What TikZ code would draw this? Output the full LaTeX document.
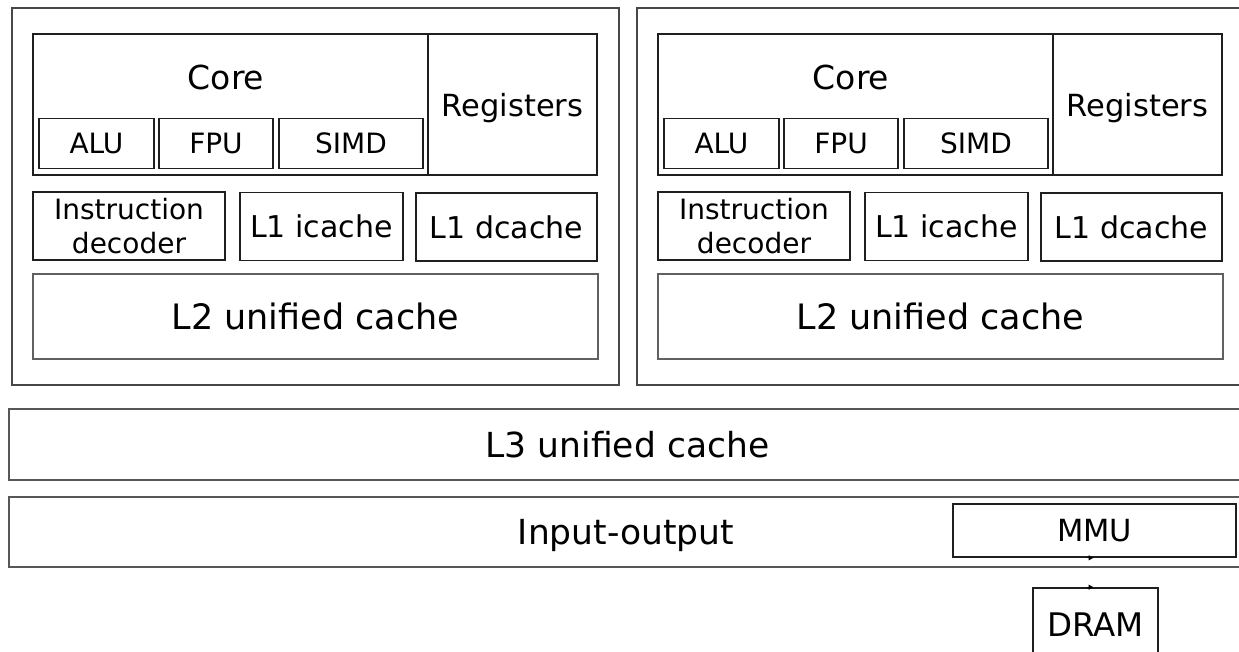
\documentclass[tikz,border=0pt]{standalone}
\usepackage{fontspec}
\setmainfont{DejaVu Sans}
\usetikzlibrary{arrows.meta}
\newcommand{\fs}[1]{\fontsize{#1}{#1}\selectfont}
\tikzset{
  outerbox/.style={draw=black!72, line width=1.7pt, inner sep=0pt},
  box/.style={draw=black!88, line width=1.6pt, inner sep=0pt, align=center},
  lightbox/.style={draw=black!62, line width=1.4pt, inner sep=0pt, align=center, text depth=0pt},
  bandbox/.style={draw=black!66, line width=1.6pt, inner sep=0pt, text depth=0pt},
  txt/.style={inner sep=0pt, align=center, text depth=0pt},
  unitfont/.style={font=\fs{28}},
  l1font/.style={font=\fs{30}, text depth=0pt},
  regfont/.style={font=\fs{30.5}, text depth=0pt},
  decfont/.style={font={\fontsize{28}{34}\selectfont}},
  bigfont/.style={font=\fs{34.5}},
}
\begin{document}
\begin{tikzpicture}[x=1pt,y=-1pt]
\clip (0,0) rectangle (1239,652);
\fill[white] (0,0) rectangle (1239,652);
% ---- left processor ----
\node[outerbox, minimum width=607, minimum height=377] (outL) at (315.5,196.5) {};
\node[box, minimum width=395, minimum height=141] (coreL) at (230.5,104.5) {};
\node[txt, font=\fs{33}] (coreLt) at (226,77) {Core};
\node[box, minimum width=169, minimum height=141, regfont] (regL) at (512.5,104.5) {Registers};
\node[box, minimum width=115, minimum height=50, unitfont] (aluL) at (96.5,143.5) {ALU};
\node[box, minimum width=114, minimum height=50, unitfont] (fpuL) at (216,143.5) {FPU};
\node[box, minimum width=144, minimum height=50, unitfont] (simdL) at (351,143.5) {SIMD};
\node[box, minimum width=192, minimum height=68, decfont] (idL) at (129,226) {Instruction\\decoder};
\node[box, minimum width=163, minimum height=68, l1font] (icL) at (321.5,226.5) {L1 icache};
\node[box, minimum width=181, minimum height=68, l1font] (dcL) at (506.5,227) {L1 dcache};
\node[lightbox, minimum width=565, minimum height=85, font=\fs{35}] (l2L) at (315.5,316.5) {L2 unified cache};
% ---- right processor ----
\begin{scope}[xshift=625pt]
\node[outerbox, minimum width=607, minimum height=377] (outR) at (315.5,196.5) {};
\node[box, minimum width=395, minimum height=141] (coreR) at (230.5,104.5) {};
\node[txt, font=\fs{33}] (coreRt) at (226,77) {Core};
\node[box, minimum width=169, minimum height=141, regfont] (regR) at (512.5,104.5) {Registers};
\node[box, minimum width=115, minimum height=50, unitfont] (aluR) at (96.5,143.5) {ALU};
\node[box, minimum width=114, minimum height=50, unitfont] (fpuR) at (216,143.5) {FPU};
\node[box, minimum width=144, minimum height=50, unitfont] (simdR) at (351,143.5) {SIMD};
\node[box, minimum width=192, minimum height=68, decfont] (idR) at (129,226) {Instruction\\decoder};
\node[box, minimum width=163, minimum height=68, l1font] (icR) at (321.5,226.5) {L1 icache};
\node[box, minimum width=181, minimum height=68, l1font] (dcR) at (506.5,227) {L1 dcache};
\node[lightbox, minimum width=565, minimum height=85, font=\fs{35}] (l2R) at (315.5,316.5) {L2 unified cache};
\end{scope}
% ---- shared ----
\node[bandbox, minimum width=1237, minimum height=71, bigfont] (l3) at (627.5,444.5) {L3 unified cache};
\node[bandbox, minimum width=1237, minimum height=70] (io) at (627.5,532) {};
\node[txt, bigfont] (iot) at (626,532) {Input-output};
\node[box, minimum width=283, minimum height=53, font=\fs{30.5}] (mmu) at (1094.5,530.5) {MMU};
\node[box, minimum width=125, minimum height=92] (dram) at (1095.5,634) {};
\node[txt, font=\fs{32.5}] (dramt) at (1095.5,624.5) {DRAM};
\draw[line width=1pt, -{Triangle[length=5pt,width=5pt]}] ([xshift=-8pt]mmu.south) -- ([xshift=-1pt]mmu.south);
\draw[line width=1pt, -{Triangle[length=5pt,width=5pt]}] ([xshift=-9pt]dram.north) -- ([xshift=-2pt]dram.north);
\end{tikzpicture}
\end{document}
